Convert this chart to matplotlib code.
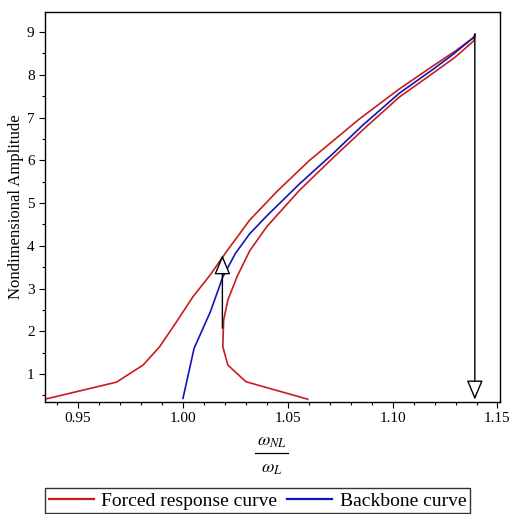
import matplotlib
matplotlib.use("Agg")
import matplotlib.pyplot as plt
from matplotlib.lines import Line2D
from matplotlib.ticker import MultipleLocator

plt.rcParams['font.family'] = ['Liberation Serif', 'DejaVu Serif']
plt.rcParams['mathtext.fontset'] = 'stix'

# Forced response curve: ascending (outer) branch, then descending (inner) branch
forced_x = [0.9350, 0.9683, 0.9810, 0.9889, 0.9969, 1.0048, 1.0127, 1.0207,
            1.0318, 1.0450, 1.0604, 1.0842, 1.1032, 1.1190, 1.1300, 1.1385, 1.1393,
            1.1388, 1.1300, 1.1190, 1.1032, 1.0873, 1.0714, 1.0556, 1.0400,
            1.0318, 1.0260, 1.0214, 1.0194, 1.0190, 1.0214, 1.0300, 1.0595]
forced_y = [0.42, 0.81, 1.21, 1.64, 2.22, 2.81, 3.30, 3.86,
            4.60, 5.28, 6.00, 6.97, 7.67, 8.20, 8.56, 8.87, 8.96,
            8.80, 8.42, 8.03, 7.48, 6.78, 6.05, 5.30, 4.45,
            3.88, 3.30, 2.73, 2.26, 1.64, 1.21, 0.82, 0.41]

# Backbone curve
backbone_x = [1.0000, 1.0053, 1.0131, 1.0190, 1.0250, 1.0318, 1.0400, 1.0556,
              1.0714, 1.0857, 1.1032, 1.1190, 1.1286, 1.1385]
backbone_y = [0.43, 1.60, 2.46, 3.27, 3.82, 4.28, 4.70, 5.45,
              6.15, 6.82, 7.57, 8.12, 8.47, 8.87]

# Jump arrows (x, y_start, y_end)
jump_up = (1.0188, 2.07, 3.78)
jump_down = (1.1392, 8.95, 0.40)

xticks = [0.95, 1.00, 1.05, 1.10, 1.15]
xticklabels = ["0.95", "1.00", "1.05", "1.10", "1.15"]
yticks = [1, 2, 3, 4, 5, 6, 7, 8, 9]

red = '#C41E1E'
blue = '#1414B4'

W, H = 509, 514
fig = plt.figure(figsize=(W/100, H/100), dpi=100)
ax = fig.add_axes([45/W, 1-402/H, (500-45)/W, (402-12)/H])

ax.plot(forced_x, forced_y, color=red, lw=1.2)
ax.plot(backbone_x, backbone_y, color=blue, lw=1.2)

for (xa, y0, y1) in (jump_up, jump_down):
    ax.annotate('', xy=(xa, y1), xytext=(xa, y0),
                arrowprops=dict(arrowstyle='-|>,head_length=1.0,head_width=0.42',
                                mutation_scale=12, fc='white', ec='black', lw=1.0,
                                shrinkA=0, shrinkB=0))

ax.set_xlim(0.9342, 1.1512)
ax.set_ylim(0.345, 9.47)
ax.set_xticks(xticks)
ax.set_xticklabels(xticklabels)
ax.set_yticks(yticks)
ax.xaxis.set_minor_locator(MultipleLocator(0.01))
ax.yaxis.set_minor_locator(MultipleLocator(0.5))
ax.tick_params(which='major', direction='out', length=4.5, width=0.8, labelsize=11, pad=3)
ax.tick_params(which='minor', direction='out', length=2.2, width=0.8)
for s in ax.spines.values():
    s.set_linewidth(1.0)
    s.set_color('black')

ax.set_ylabel('Nondimensional Amplitude', fontsize=12, labelpad=2)

# x-axis label as a stacked fraction
fig.text(272/W, 1-442/H, r'$\omega_{NL}$', fontsize=13, ha='center', va='center')
fig.add_artist(Line2D([255/W, 288/W], [1-453/H, 1-453/H], color='black', lw=0.9,
                      transform=fig.transFigure))
fig.text(272/W, 1-469/H, r'$\omega_{L}$', fontsize=13, ha='center', va='center')

handles = [Line2D([], [], color=red, lw=1.6), Line2D([], [], color=blue, lw=1.6)]
leg = fig.legend(handles, ['Forced response curve', 'Backbone curve'],
                 loc='upper left', bbox_to_anchor=(45/W, 1-488/H), ncol=2,
                 fontsize=14, frameon=True, fancybox=False, handlelength=2.3,
                 handletextpad=0.4, columnspacing=0.5, borderpad=0.2,
                 borderaxespad=0)
leg.get_frame().set_edgecolor('black')
leg.get_frame().set_linewidth(1.0)

fig.savefig('out.png', dpi=100)
